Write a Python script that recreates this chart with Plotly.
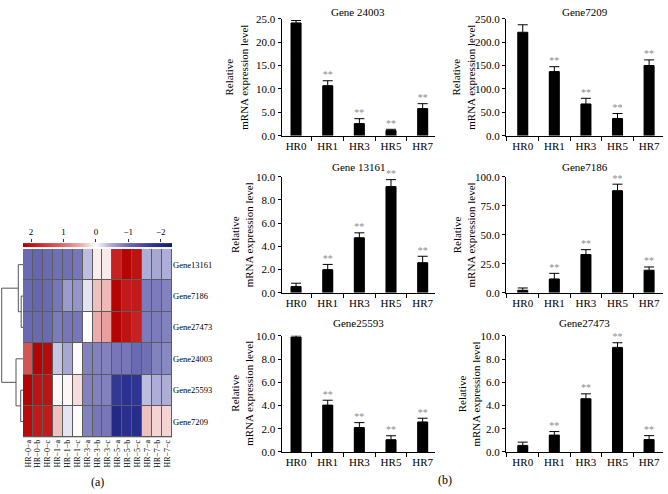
import numpy as np
import plotly.graph_objects as go

W, H = 668, 494
FONT = "Liberation Serif"

heat_rows = ["Gene13161", "Gene7186", "Gene27473", "Gene24003", "Gene25593", "Gene7209"]
heat_cols = ["HR−0−a", "HR−0−b", "HR−0−c", "HR−1−a", "HR−1−b", "HR−1−c",
             "HR−3−a", "HR−3−b", "HR−3−c", "HR−5−a", "HR−5−b", "HR−5−c",
             "HR−7−a", "HR−7−b", "HR−7−c"]
z_gene13161 = [-1.0, -1.05, -1.0, -0.95, -0.95, -0.9, -0.35, 0.1, 0.12, 1.8, 2.2, 2.0, -0.45, -0.5, -0.45]
z_gene7186 = [-1.0, -1.05, -1.0, -0.9, -0.6, -0.65, -0.15, 0.35, 0.4, 2.2, 1.9, 1.9, -0.85, -0.85, -0.8]
z_gene27473 = [-1.0, -1.0, -1.0, -0.85, -0.9, -0.9, 0.0, 0.5, 0.6, 2.2, 2.0, 1.8, -0.85, -0.85, -0.8]
z_gene24003 = [1.25, 2.2, 2.1, -0.3, -0.5, 0.02, -0.8, -0.8, -0.8, -0.9, -0.9, -1.0, -0.95, -0.8, -0.75]
z_gene25593 = [2.2, 2.0, 2.0, 0.05, 0.05, 0.2, -0.8, -0.8, -0.8, -1.7, -1.8, -1.75, -0.35, -0.45, -0.45]
z_gene7209 = [2.1, 1.9, 1.9, 0.35, -0.15, 0.02, -0.8, -0.9, -0.9, -2.0, -1.85, -1.9, 0.35, 0.25, 0.25]

colorbar_ticks = [2, 1, 0, -1, -2]
colorbar_text = ["2", "1", "0", "−1", "−2"]
ZMIN, ZMAX = -2.35, 2.25

# dendrogram merges (child a, child b, height); leaves 0..5, new nodes numbered 6, 7, ...
dendro_merges = [(1, 2, 1.8), (0, 6, 4.7), (4, 5, 2.3), (3, 8, 7.0), (7, 9, 21.3)]

# ---------------- bar chart data ----------------
categories = ["HR0", "HR1", "HR3", "HR5", "HR7"]
gene24003_mean = [24.1, 10.7, 2.6, 1.1, 5.8]
gene24003_err = [0.5, 1.05, 1.05, 0.28, 1.05]
gene7209_mean = [221, 137, 68, 37, 150]
gene7209_err = [16, 10.5, 12, 10.5, 12]
gene13161_mean = [0.55, 2.0, 4.75, 9.15, 2.6]
gene13161_err = [0.28, 0.45, 0.42, 0.6, 0.55]
gene7186_mean = [2.2, 12.0, 33.0, 88.0, 19.5]
gene7186_err = [2.0, 4.8, 4.2, 5.6, 2.8]
gene25593_mean = [9.9, 4.03, 2.1, 1.05, 2.58]
gene25593_err = [0.14, 0.42, 0.42, 0.34, 0.32]
gene27473_mean = [0.56, 1.45, 4.58, 9.0, 1.06]
gene27473_err = [0.28, 0.3, 0.42, 0.4, 0.34]
significance = ["", "**", "**", "**", "**"]

bar_panels = [
    ("Gene 24003", gene24003_mean, gene24003_err, 25, 5),
    ("Gene7209", gene7209_mean, gene7209_err, 250, 50),
    ("Gene 13161", gene13161_mean, gene13161_err, 10, 2),
    ("Gene7186", gene7186_mean, gene7186_err, 100, 25),
    ("Gene25593", gene25593_mean, gene25593_err, 10, 2),
    ("Gene27473", gene27473_mean, gene27473_err, 10, 2),
]

# ---------------- layout geometry (pixels) ----------------
def px_x(x):
    return x / W

def px_y(y):
    return 1 - y / H

HEAT_X = (23, 172)
HEAT_Y = (249, 442)
RAMP_Y = (243, 247.5)
col_x = [(281.5, 435), (506, 663)]
col_range = [[-0.46, 4.39], [-0.53, 4.44]]
row_y = [(13, 133), (175, 294), (338, 457)]
title_y = [6, 165, 325]
ytitle_x = [[236.5, 241.5, 242], [463.5, 463.7, 468.7]]

stops = [(-2.35, "#161c6e"), (-1.8, "#2b3190"), (-1.0, "#6a6ab2"), (-0.4, "#b3b3da"),
         (0.0, "#ffffff"), (0.4, "#ecb8b8"), (1.0, "#dc6c6c"), (1.8, "#c62222"), (2.25, "#b30000")]
colorscale = [[(v - ZMIN) / (ZMAX - ZMIN), c] for v, c in stops]

fig = go.Figure()

# heatmap
z = [z_gene13161, z_gene7186, z_gene27473, z_gene24003, z_gene25593, z_gene7209]
fig.add_trace(go.Heatmap(
    z=z, x=list(range(len(heat_cols))), y=list(range(len(heat_rows))),
    colorscale=colorscale, zmin=ZMIN, zmax=ZMAX, showscale=False,
    xgap=1, ygap=1, xaxis="x", yaxis="y", hoverinfo="skip"))

# colour ramp (legend)
ramp = np.linspace(ZMAX, ZMIN, 240)
fig.add_trace(go.Heatmap(
    z=[ramp], x=ramp, y=[0], colorscale=colorscale, zmin=ZMIN, zmax=ZMAX,
    showscale=False, xaxis="x2", yaxis="y2", hoverinfo="skip"))

# dendrogram
pos = {i: float(i) for i in range(len(heat_rows))}
hgt = {i: 0.0 for i in range(len(heat_rows))}
dx, dy = [], []
node = len(heat_rows)
for a, b, h in dendro_merges:
    dx += [hgt[a], h, h, hgt[b], None]
    dy += [pos[a], pos[a], pos[b], pos[b], None]
    pos[node] = (pos[a] + pos[b]) / 2
    hgt[node] = h
    node += 1
fig.add_trace(go.Scatter(x=dx, y=dy, mode="lines", line=dict(color="#555555", width=1),
                         xaxis="x3", yaxis="y3", hoverinfo="skip"))

layout = dict(
    width=W, height=H, autosize=False,
    margin=dict(l=0, r=0, t=0, b=0),
    paper_bgcolor="white", plot_bgcolor="white",
    showlegend=False,
    font=dict(family=FONT, color="black", size=11),
    xaxis=dict(domain=[px_x(HEAT_X[0]), px_x(HEAT_X[1])], anchor="y",
               range=[-0.5, len(heat_cols) - 0.5], tickvals=list(range(len(heat_cols))),
               ticktext=heat_cols, tickangle=-90, ticks="", showgrid=False, zeroline=False,
               showline=False, tickfont=dict(size=8, color="black")),
    yaxis=dict(domain=[px_y(HEAT_Y[1]), px_y(HEAT_Y[0])], anchor="x", side="right",
               range=[len(heat_rows) - 0.5, -0.5], tickvals=list(range(len(heat_rows))),
               ticktext=heat_rows, ticks="", showgrid=False, zeroline=False, showline=False,
               tickfont=dict(size=8.5, color="black")),
    xaxis2=dict(domain=[px_x(HEAT_X[0]), px_x(HEAT_X[1])], anchor="y2", side="top",
                range=[ZMAX, ZMIN], tickvals=colorbar_ticks, ticktext=colorbar_text,
                ticks="outside", ticklen=3, tickcolor="#333", showgrid=False, zeroline=False,
                showline=False, tickfont=dict(size=9, color="black")),
    yaxis2=dict(domain=[px_y(RAMP_Y[1]), px_y(RAMP_Y[0])], anchor="x2", visible=False,
                range=[-0.5, 0.5]),
    xaxis3=dict(domain=[0, px_x(HEAT_X[0])], anchor="y3", range=[23, 0], visible=False),
    yaxis3=dict(domain=[px_y(HEAT_Y[1]), px_y(HEAT_Y[0])], anchor="x3",
                range=[len(heat_rows) - 0.5, -0.5], visible=False),
)

shapes = [dict(type="rect", xref="x", yref="y", x0=-0.5, x1=len(heat_cols) - 0.5,
               y0=-0.5, y1=len(heat_rows) - 0.5, fillcolor="#5c5c5c",
               line=dict(color="#5c5c5c", width=2), layer="below")]
annotations = []

for i, (title, mean, err, ymax, dtick) in enumerate(bar_panels):
    r, c = divmod(i, 2)
    n = i + 4
    xa, ya = f"x{n}", f"y{n}"
    fig.add_trace(go.Bar(
        x=categories, y=mean, width=0.35, marker=dict(color="black", line=dict(width=0)),
        error_y=dict(type="data", array=err, arrayminus=[0] * len(err), symmetric=False,
                     color="black", thickness=1, width=5),
        xaxis=xa, yaxis=ya, hoverinfo="skip"))
    fig.add_trace(go.Scatter(
        x=categories, y=[m + e for m, e in zip(mean, err)], text=significance,
        mode="text", textposition="top center", cliponaxis=False,
        textfont=dict(family=FONT, size=10, color="#8c8c8c"),
        xaxis=xa, yaxis=ya, hoverinfo="skip"))
    x0, x1 = col_x[c]
    y0, y1 = row_y[r]
    layout[f"xaxis{n}"] = dict(
        domain=[px_x(x0), px_x(x1)], anchor=ya, type="category",
        categoryorder="array", categoryarray=categories, range=col_range[c],
        tickson="boundaries", ticks="outside", ticklen=4, tickcolor="black",
        showline=True, linecolor="black", linewidth=1, showgrid=False, zeroline=False,
        tickfont=dict(size=11))
    layout[f"yaxis{n}"] = dict(
        domain=[px_y(y1), px_y(y0)], anchor=xa, range=[0, ymax], dtick=dtick,
        tickformat=".1f", ticks="outside", ticklen=3, tickcolor="black",
        showline=True, linecolor="black", linewidth=1, showgrid=False, zeroline=False,
        tickfont=dict(size=11))
    annotations.append(dict(text=title, xref="paper", yref="paper",
                            x=px_x((x0 + x1) / 2), y=px_y(title_y[r]),
                            xanchor="center", yanchor="middle", showarrow=False,
                            font=dict(size=11)))
    annotations.append(dict(text="Relative<br>mRNA expression level", xref="paper", yref="paper",
                            x=px_x(ytitle_x[c][r]), y=px_y((y0 + y1) / 2), textangle=-90,
                            xanchor="center", yanchor="middle", showarrow=False,
                            font=dict(size=11)))

annotations.append(dict(text="(a)", xref="paper", yref="paper", x=px_x(97), y=px_y(488),
                        xanchor="center", yanchor="middle", showarrow=False, font=dict(size=12)))
annotations.append(dict(text="(b)", xref="paper", yref="paper", x=px_x(445), y=px_y(486),
                        xanchor="center", yanchor="middle", showarrow=False, font=dict(size=12)))

layout["shapes"] = shapes
layout["annotations"] = annotations
fig.update_layout(**layout)

fig.write_html("out.html", config={"displayModeBar": False},
               post_script="document.body.style.margin='0';")
